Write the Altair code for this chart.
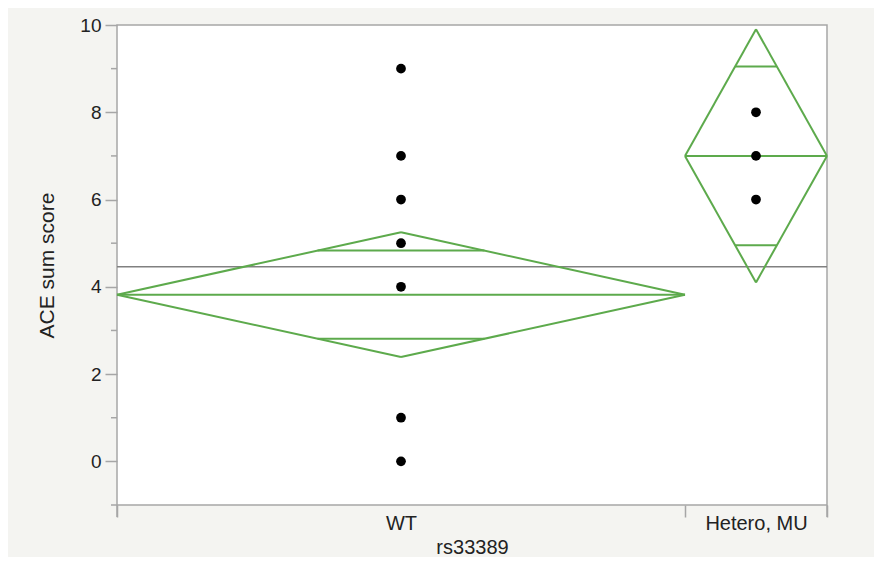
import altair as alt
import pandas as pd

# ---- data ----
groups = ["WT", "Hetero, MU"]
group_n = [12, 3]                 # widths of the group cells (proportional to n)
group_means = [3.82, 7.0]
group_ci_half = [1.43, 2.9]       # 95% CI half-width (diamond top/bottom)
overlap_half = [1.01, 2.05]       # overlap marks
grand_mean = 4.46

pt_group = ["WT", "WT", "WT", "WT", "WT", "WT", "WT", "Hetero, MU", "Hetero, MU", "Hetero, MU"]
pt_value = [9, 7, 6, 5, 4, 1, 0, 8, 7, 6]

y_major = [0, 2, 4, 6, 8, 10]
y_minor = [-1, 1, 3, 5, 7, 9]

GREEN = "#5daa4c"
GRAY = "#a6a6a6"
FONT = "Liberation Sans"
FS = 20

# ---- derived tables ----
starts, centers, ends = {}, {}, {}
s = 0
for g, n in zip(groups, group_n):
    starts[g] = s
    ends[g] = s + n
    centers[g] = s + n / 2
    s += n
total = s

segs = []
for g, m, ci, ov in zip(groups, group_means, group_ci_half, overlap_half):
    x0, xc, x1 = starts[g], centers[g], ends[g]
    segs += [
        dict(x=x0, x2=xc, y=m, y2=m + ci),
        dict(x=xc, x2=x1, y=m + ci, y2=m),
        dict(x=x1, x2=xc, y=m, y2=m - ci),
        dict(x=xc, x2=x0, y=m - ci, y2=m),
        dict(x=x0, x2=x1, y=m, y2=m),
    ]
    inset = (xc - x0) * ov / ci
    segs += [
        dict(x=x0 + inset, x2=x1 - inset, y=m + ov, y2=m + ov),
        dict(x=x0 + inset, x2=x1 - inset, y=m - ov, y2=m - ov),
    ]
seg_df = pd.DataFrame(segs)

pts_df = pd.DataFrame({"x": [centers[g] for g in pt_group], "y": pt_value})
gm_df = pd.DataFrame({"x": [0], "x2": [total], "y": [grand_mean]})
minor_df = pd.DataFrame({"y": y_minor})

tick_vals = [0, centers["WT"], starts["Hetero, MU"], centers["Hetero, MU"], total]
label_map = {centers["WT"]: "WT", centers["Hetero, MU"]: "Hetero, MU"}
label_expr = " : ".join(
    [f"datum.value == {k} ? '{v}'" for k, v in label_map.items()] + ["''"]
)
center_test = " || ".join([f"datum.value == {k}" for k in label_map])

xscale = alt.Scale(domain=[0, total], nice=False, zero=False)
yscale = alt.Scale(domain=[-1, 10], nice=False, zero=False)

x_axis = alt.Axis(
    values=tick_vals, labelExpr=label_expr, grid=False, domain=False,
    tickColor=GRAY, tickWidth=1.5,
    tickSize=12,
    tickOpacity={"condition": {"test": center_test, "value": 0}, "value": 1},
    labelPadding=-4, labelFontSize=FS, labelFont=FONT, labelColor="#222",
    title="rs33389", titleFontSize=FS, titleFont=FONT, titleFontWeight="normal",
    titleColor="#222", titlePadding=4, labelFlush=False, labelOverlap=False,
)
y_axis = alt.Axis(
    values=y_major, grid=False, domain=False, tickColor=GRAY, tickWidth=1.5,
    tickSize=12, labelPadding=4, labelFontSize=19, labelFont=FONT, labelColor="#222",
    title="ACE sum score", titleFontSize=21, titleFont=FONT, titleFontWeight="normal",
    titleColor="#222", titlePadding=22,
)

base_x = alt.X("x:Q", scale=xscale, axis=x_axis)
base_y = alt.Y("y:Q", scale=yscale, axis=y_axis)

grand = alt.Chart(gm_df).mark_rule(color="#808080", strokeWidth=1.5).encode(
    x=base_x, x2="x2:Q", y=base_y
)
diamonds = alt.Chart(seg_df).mark_rule(color=GREEN, strokeWidth=2).encode(
    x=alt.X("x:Q", scale=xscale), x2="x2:Q",
    y=alt.Y("y:Q", scale=yscale), y2="y2:Q",
)
points = alt.Chart(pts_df).mark_circle(color="black", size=95, opacity=1).encode(
    x=alt.X("x:Q", scale=xscale), y=alt.Y("y:Q", scale=yscale)
)
minor = alt.Chart(minor_df).mark_rule(color=GRAY, strokeWidth=1.5, clip=False).encode(
    x=alt.value(-6), x2=alt.value(0), y=alt.Y("y:Q", scale=yscale)
)
ext_df = pd.DataFrame({"x": [0, total]})
ext = alt.Chart(ext_df).mark_rule(color=GRAY, strokeWidth=1.5, clip=False).encode(
    x=alt.X("x:Q", scale=xscale), y=alt.value(480), y2=alt.value(492)
)

chart = alt.layer(grand, diamonds, points, minor, ext).properties(
    width=710, height=480,
    autosize=alt.AutoSizeParams(type="none"),
    padding={"left": 109, "top": 17, "right": 47, "bottom": 52},
    background="#f4f4f1",
).configure_view(
    fill="white", stroke=GRAY, strokeWidth=1.5
)

chart.save("out.html", embed_options={"renderer": "svg", "actions": False})
